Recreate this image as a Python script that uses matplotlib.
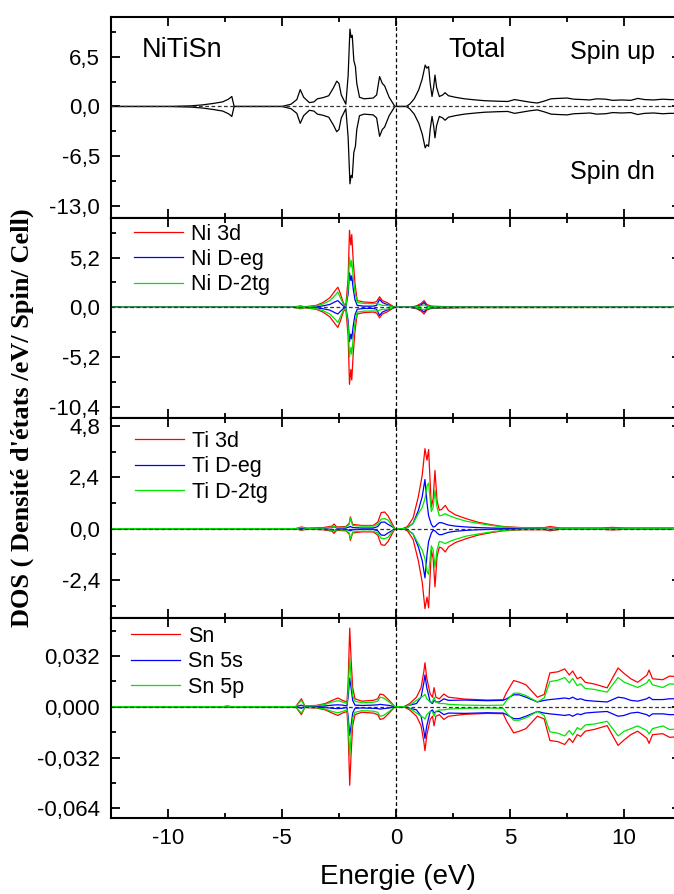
import numpy as np
import matplotlib
matplotlib.use("Agg")
import matplotlib.pyplot as plt
from matplotlib.ticker import FixedLocator, FixedFormatter

plt.rcParams['font.family'] = ['Liberation Sans', 'DejaVu Sans']

# ---------------- data (spin-up DOS; spin-down is its mirror) ----------------
E_TOT = [-12.5, -10.0, -9.0, -8.5, -8.0, -7.6, -7.35, -7.2, -7.1, -5.0,
         -4.6, -4.35, -4.2, -4.05, -3.8, -3.6, -3.45, -3.2, -2.95, -2.75,
         -2.6, -2.5, -2.4, -2.2, -2.1, -2.02, -1.97, -1.92, -1.85, -1.78,
         -1.72, -1.6, -1.4, -1.0, -0.85, -0.72, -0.6, -0.5, -0.3, -0.05,
         0.45, 0.6, 0.8, 1.0, 1.15, 1.28, 1.35, 1.43, 1.5, 1.58,
         1.65, 1.71, 1.78, 1.9, 2.05, 2.15, 2.3, 2.6, 3.0, 3.5,
         3.9, 4.5, 4.9, 5.2, 5.5, 5.9, 6.2, 6.5, 6.8, 7.1,
         7.5, 7.8, 8.2, 8.5, 8.8, 9.2, 9.5, 9.9, 10.3, 10.6,
         10.9, 11.3, 11.7, 12.0, 12.5]
TOT_UP = [0, 0, 0.08, 0.2, 0.4, 0.6, 0.95, 1.3, 0.0, 0,
          0.3, 0.9, 2.2, 1.2, 0.5, 0.6, 1.0, 1.15, 1.4, 2.4,
          3.3, 3.0, 1.5, 0.3, 4.0, 10.1, 9.0, 9.3, 6.0, 5.2,
          3.0, 1.2, 1.0, 1.1, 1.5, 3.9, 3.0, 2.7, 1.2, 0,
          0, 0.3, 1.0, 2.2, 3.6, 5.4, 5.0, 5.2, 3.0, 1.3,
          2.5, 4.1, 2.5, 1.3, 1.5, 1.8, 1.4, 1.2, 1.0, 0.85,
          0.75, 0.68, 0.65, 0.9, 0.75, 0.55, 0.45, 0.7, 1.0, 1.05,
          1.1, 0.95, 0.9, 0.85, 1.0, 0.95, 0.8, 0.85, 0.8, 1.05,
          0.9, 0.85, 0.95, 0.9, 0.9]

E_NI = [-12.5, -4.5, -4.2, -4.0, -3.5, -3.2, -2.9, -2.65, -2.55, -2.45,
        -2.3, -2.2, -2.1, -2.04, -1.98, -1.94, -1.88, -1.8, -1.7, -1.4,
        -1.0, -0.85, -0.72, -0.6, -0.4, -0.2, -0.05, 0.6, 0.9, 1.1,
        1.23, 1.35, 1.5, 1.6, 2.0, 3.0, 12.5]
NI_3D = [0, 0, 0.15, 0.05, 0.2, 0.5, 1.0, 1.8, 2.1, 1.5,
         0.4, 0.2, 3.0, 8.05, 6.5, 7.6, 5.0, 2.5, 0.7, 0.55,
         0.5, 0.6, 1.1, 0.7, 0.5, 0.2, 0, 0, 0.15, 0.4,
         0.7, 0.3, 0.15, 0.12, 0.08, 0.03, 0.01]
NI_EG = [0, 0, 0.03, 0.01, 0.05, 0.15, 0.3, 0.6, 0.7, 0.45,
         0.12, 0.05, 1.4, 3.6, 2.8, 3.3, 2.0, 0.8, 0.2, 0.12,
         0.12, 0.2, 0.85, 0.5, 0.3, 0.1, 0, 0, 0.08, 0.25,
         0.5, 0.15, 0.08, 0.06, 0.04, 0.01, 0.005]
NI_T2G = [0, 0, 0.1, 0.03, 0.15, 0.35, 0.7, 1.3, 1.6, 1.05,
          0.28, 0.12, 1.9, 5.2, 4.2, 4.9, 3.2, 1.6, 0.5, 0.4,
          0.38, 0.4, 0.3, 0.2, 0.2, 0.1, 0, 0, 0.06, 0.15,
          0.25, 0.15, 0.07, 0.06, 0.04, 0.02, 0.005]

E_TI = [-12.5, -4.4, -4.15, -3.9, -3.2, -2.8, -2.72, -2.6, -2.2, -2.05,
        -2.0, -1.9, -1.5, -1.0, -0.8, -0.65, -0.5, -0.35, -0.15, -0.05,
        0.3, 0.5, 0.75, 0.98, 1.15, 1.27, 1.36, 1.43, 1.55, 1.63,
        1.71, 1.8, 1.9, 2.0, 2.16, 2.3, 2.6, 3.07, 3.6, 4.2,
        4.7, 5.5, 6.5, 6.76, 7.2, 9.0, 9.5, 10.0, 12.5]
TI_3D = [0, 0, 0.08, 0.02, 0.05, 0.12, 0.22, 0.08, 0.1, 0.25,
         0.55, 0.2, 0.15, 0.15, 0.3, 0.75, 0.78, 0.6, 0.2, 0,
         0, 0.1, 0.5, 1.5, 2.5, 3.74, 3.2, 3.7, 1.0, 1.4,
         2.72, 1.3, 0.86, 0.9, 1.09, 0.85, 0.65, 0.47, 0.3, 0.18,
         0.1, 0.05, 0.05, 0.1, 0.03, 0.03, 0.06, 0.03, 0.03]
TI_EG = [0, 0, 0.02, 0.005, 0.02, 0.05, 0.1, 0.03, 0.03, 0.08,
         0.1, 0.05, 0.03, 0.03, 0.1, 0.3, 0.31, 0.2, 0.08, 0,
         0, 0.05, 0.25, 0.85, 1.5, 2.3, 1.2, 0.6, 0.2, 0.08,
         0.1, 0.2, 0.28, 0.28, 0.22, 0.17, 0.12, 0.08, 0.05, 0.03,
         0.02, 0.01, 0.02, 0.05, 0.01, 0.01, 0.03, 0.01, 0.01]
TI_T2G = [0, 0, 0.06, 0.015, 0.03, 0.07, 0.12, 0.05, 0.07, 0.2,
          0.5, 0.15, 0.12, 0.12, 0.2, 0.45, 0.47, 0.4, 0.12, 0,
          0, 0.05, 0.25, 0.7, 1.0, 1.4, 2.0, 2.13, 0.8, 1.0,
          1.8, 1.0, 0.6, 0.62, 0.7, 0.62, 0.5, 0.35, 0.25, 0.15,
          0.08, 0.04, 0.03, 0.05, 0.02, 0.02, 0.03, 0.02, 0.02]

E_SN = [-12.5, -7.6, -7.4, -7.2, -4.4, -4.15, -4.0, -3.5, -3.1, -2.8,
        -2.55, -2.35, -2.15, -2.1, -2.03, -1.97, -1.9, -1.8, -1.5, -1.0,
        -0.8, -0.7, -0.55, -0.3, -0.05, 0.35, 0.6, 0.9, 1.1, 1.22,
        1.27, 1.35, 1.5, 1.6, 1.67, 1.75, 1.9, 2.1, 2.3, 3.0,
        4.0, 4.7, 4.85, 5.16, 5.4, 5.7, 6.2, 6.5, 6.75, 7.1,
        7.4, 7.6, 7.75, 7.95, 8.1, 8.3, 8.7, 9.26, 9.74, 10.0,
        10.3, 10.6, 11.0, 11.1, 11.25, 11.7, 12.0, 12.5]
SN_TOT = [0, 0, 0.0003, 0, 0, 0.005, 0.0005, 0.0008, 0.002, 0.004,
          0.0055, 0.004, 0.003, 0.015, 0.0495, 0.03, 0.012, 0.005, 0.0035, 0.004,
          0.005, 0.008, 0.0075, 0.004, 0, 0, 0.002, 0.006, 0.012, 0.022,
          0.0277, 0.018, 0.008, 0.006, 0.012, 0.006, 0.005, 0.008, 0.006, 0.0048,
          0.0042, 0.0044, 0.009, 0.0165, 0.0155, 0.0138, 0.006, 0.0077, 0.0213, 0.022,
          0.0238, 0.02, 0.0225, 0.0176, 0.0187, 0.0154, 0.0143, 0.0119, 0.0244, 0.021,
          0.0176, 0.0154, 0.0198, 0.0231, 0.0176, 0.017, 0.0193, 0.0187]
SN_5S = [0, 0, 0.0003, 0, 0, 0.001, 0.0001, 0.0002, 0.0005, 0.001,
         0.0012, 0.001, 0.0005, 0.006, 0.018, 0.012, 0.004, 0.001, 0.0008, 0.001,
         0.0012, 0.0015, 0.0012, 0.0008, 0, 0, 0.001, 0.002, 0.006, 0.015,
         0.020, 0.012, 0.003, 0.002, 0.004, 0.003, 0.003, 0.005, 0.004, 0.0042,
         0.0038, 0.004, 0.005, 0.0075, 0.0075, 0.006, 0.003, 0.004, 0.0045, 0.005,
         0.0055, 0.005, 0.006, 0.0045, 0.005, 0.004, 0.0035, 0.003, 0.006, 0.0055,
         0.004, 0.0035, 0.005, 0.006, 0.0045, 0.0045, 0.005, 0.005]
SN_5P = [0, 0, 0, 0, 0, 0.004, 0.0004, 0.0006, 0.0015, 0.003,
         0.0038, 0.003, 0.002, 0.009, 0.031, 0.018, 0.007, 0.0035, 0.0025, 0.0028,
         0.0035, 0.006, 0.0055, 0.003, 0, 0, 0.001, 0.004, 0.006, 0.007,
         0.0078, 0.005, 0.003, 0.003, 0.006, 0.003, 0.002, 0.002, 0.0015, 0.001,
         0.0008, 0.001, 0.004, 0.0085, 0.0085, 0.007, 0.003, 0.0055, 0.0158, 0.0167,
         0.0184, 0.015, 0.0178, 0.0132, 0.0144, 0.0115, 0.0109, 0.0092, 0.0184, 0.0155,
         0.0138, 0.0121, 0.015, 0.0172, 0.0138, 0.0121, 0.0144, 0.0138]

X_TICKS = [-10, -5, 0, 5, 10]
X_LABELS = ["-10", "-5", "0", "5", "10"]
X_MINOR = [-7.5, -2.5, 2.5, 7.5]

Y_TICKS = [[-13.0, -6.5, 0.0, 6.5], [-10.4, -5.2, 0.0, 5.2],
           [-2.4, 0.0, 2.4, 4.8], [-0.064, -0.032, 0.0, 0.032]]
Y_LABELS = [["-13,0", "-6,5", "0,0", "6,5"], ["-10,4", "-5,2", "0,0", "5,2"],
            ["-2,4", "0,0", "2,4", "4,8"], ["-0,064", "-0,032", "0,000", "0,032"]]
Y_MINOR = [[-9.75, -3.25, 3.25, 9.75], [-7.8, -2.6, 2.6, 7.8],
           [-3.6, -1.2, 1.2, 3.6], [-0.048, -0.016, 0.016, 0.048]]
Y_LIMS = [(-14.6, 11.64), (-11.6, 9.3), (-4.19, 5.16), (-0.0703, 0.0557)]

RED, BLUE, GREEN = "#ff0000", "#0000ff", "#00e600"

# ---------------- layout ----------------
W, H = 674, 894
fig = plt.figure(figsize=(W / 100, H / 100), dpi=100)
panel_px = [(17.3, 218.3), (218.3, 418.3), (418.3, 618.3), (618.3, 818.3)]
left_px, right_px = 111, 681
axes = []
for top, bot in panel_px:
    ax = fig.add_axes([left_px / W, 1 - bot / H, (right_px - left_px) / W, (bot - top) / H])
    axes.append(ax)

dash = (0, (3, 2))
for i, ax in enumerate(axes):
    ax.set_xlim(-12.5, 12.5)
    ax.set_ylim(*Y_LIMS[i])
    ax.xaxis.set_major_locator(FixedLocator(X_TICKS))
    ax.xaxis.set_minor_locator(FixedLocator(X_MINOR))
    if i == 3:
        ax.xaxis.set_major_formatter(FixedFormatter(X_LABELS))
    else:
        ax.xaxis.set_major_formatter(FixedFormatter([""] * len(X_TICKS)))
    ax.yaxis.set_major_locator(FixedLocator(Y_TICKS[i]))
    ax.yaxis.set_major_formatter(FixedFormatter(Y_LABELS[i]))
    ax.yaxis.set_minor_locator(FixedLocator(Y_MINOR[i]))
    ax.tick_params(which='both', direction='in', top=True, right=True, width=1.3)
    ax.tick_params(which='major', length=6.5, labelsize=16)
    ax.tick_params(which='minor', length=3.8)
    ax.tick_params(axis='y', pad=8)
    ax.tick_params(axis='x', pad=7)
    for s in ax.spines.values():
        s.set_linewidth(1.5)
    ax.axhline(0, color='#333333', lw=0.9, ls=dash, zorder=6)
    ax.axvline(0, color='black', lw=0.9, ls=dash, zorder=6)

# total DOS
ax = axes[0]
e = np.array(E_TOT)
up = np.array(TOT_UP)
ax.plot(e, up, color='black', lw=0.9)
ax.plot(e, -up, color='black', lw=0.9)
ax.text(-11.15, 7.4, "NiTiSn", fontsize=19.5, va='center', ha='left')
ax.text(2.28, 7.4, "Total", fontsize=19.5, va='center', ha='left')
ax.text(7.63, 7.1, "Spin up", fontsize=18, va='center', ha='left')
ax.text(7.63, -8.5, "Spin dn", fontsize=18, va='center', ha='left')


def draw_partial(ax, e, series, labels, anchor):
    handles = []
    for vals, col in zip(series, (RED, BLUE, GREEN)):
        v = np.array(vals)
        h, = ax.plot(e, v, color=col, lw=0.9)
        ax.plot(e, -v, color=col, lw=0.9)
        handles.append(h)
    ax.legend(handles, labels, loc='upper left', bbox_to_anchor=anchor,
              frameon=False, fontsize=15.5, handlelength=2.3, handletextpad=0.35,
              labelspacing=0.2, borderpad=0, borderaxespad=0)


draw_partial(axes[1], np.array(E_NI), [NI_3D, NI_EG, NI_T2G],
             ["Ni 3d", "Ni D-eg", "Ni D-2tg"], (0.04, 0.974))
draw_partial(axes[2], np.array(E_TI), [TI_3D, TI_EG, TI_T2G],
             ["Ti 3d", "Ti D-eg", "Ti D-2tg"], (0.042, 0.937))
draw_partial(axes[3], np.array(E_SN), [SN_TOT, SN_5S, SN_5P],
             ["Sn", "Sn 5s", "Sn 5p"], (0.035, 0.962))

fig.text(22 / W, 1 - 418 / H, "DOS ( Densité d'états /eV/ Spin/ Cell)",
         rotation=90, ha='center', va='center', fontsize=19,
         fontweight='bold', family=['Liberation Serif', 'DejaVu Serif'])
fig.text(398 / W, 1 - 884 / H, "Energie (eV)", ha='center', va='baseline',
         fontsize=20)

fig.savefig("out.png", dpi=100)
